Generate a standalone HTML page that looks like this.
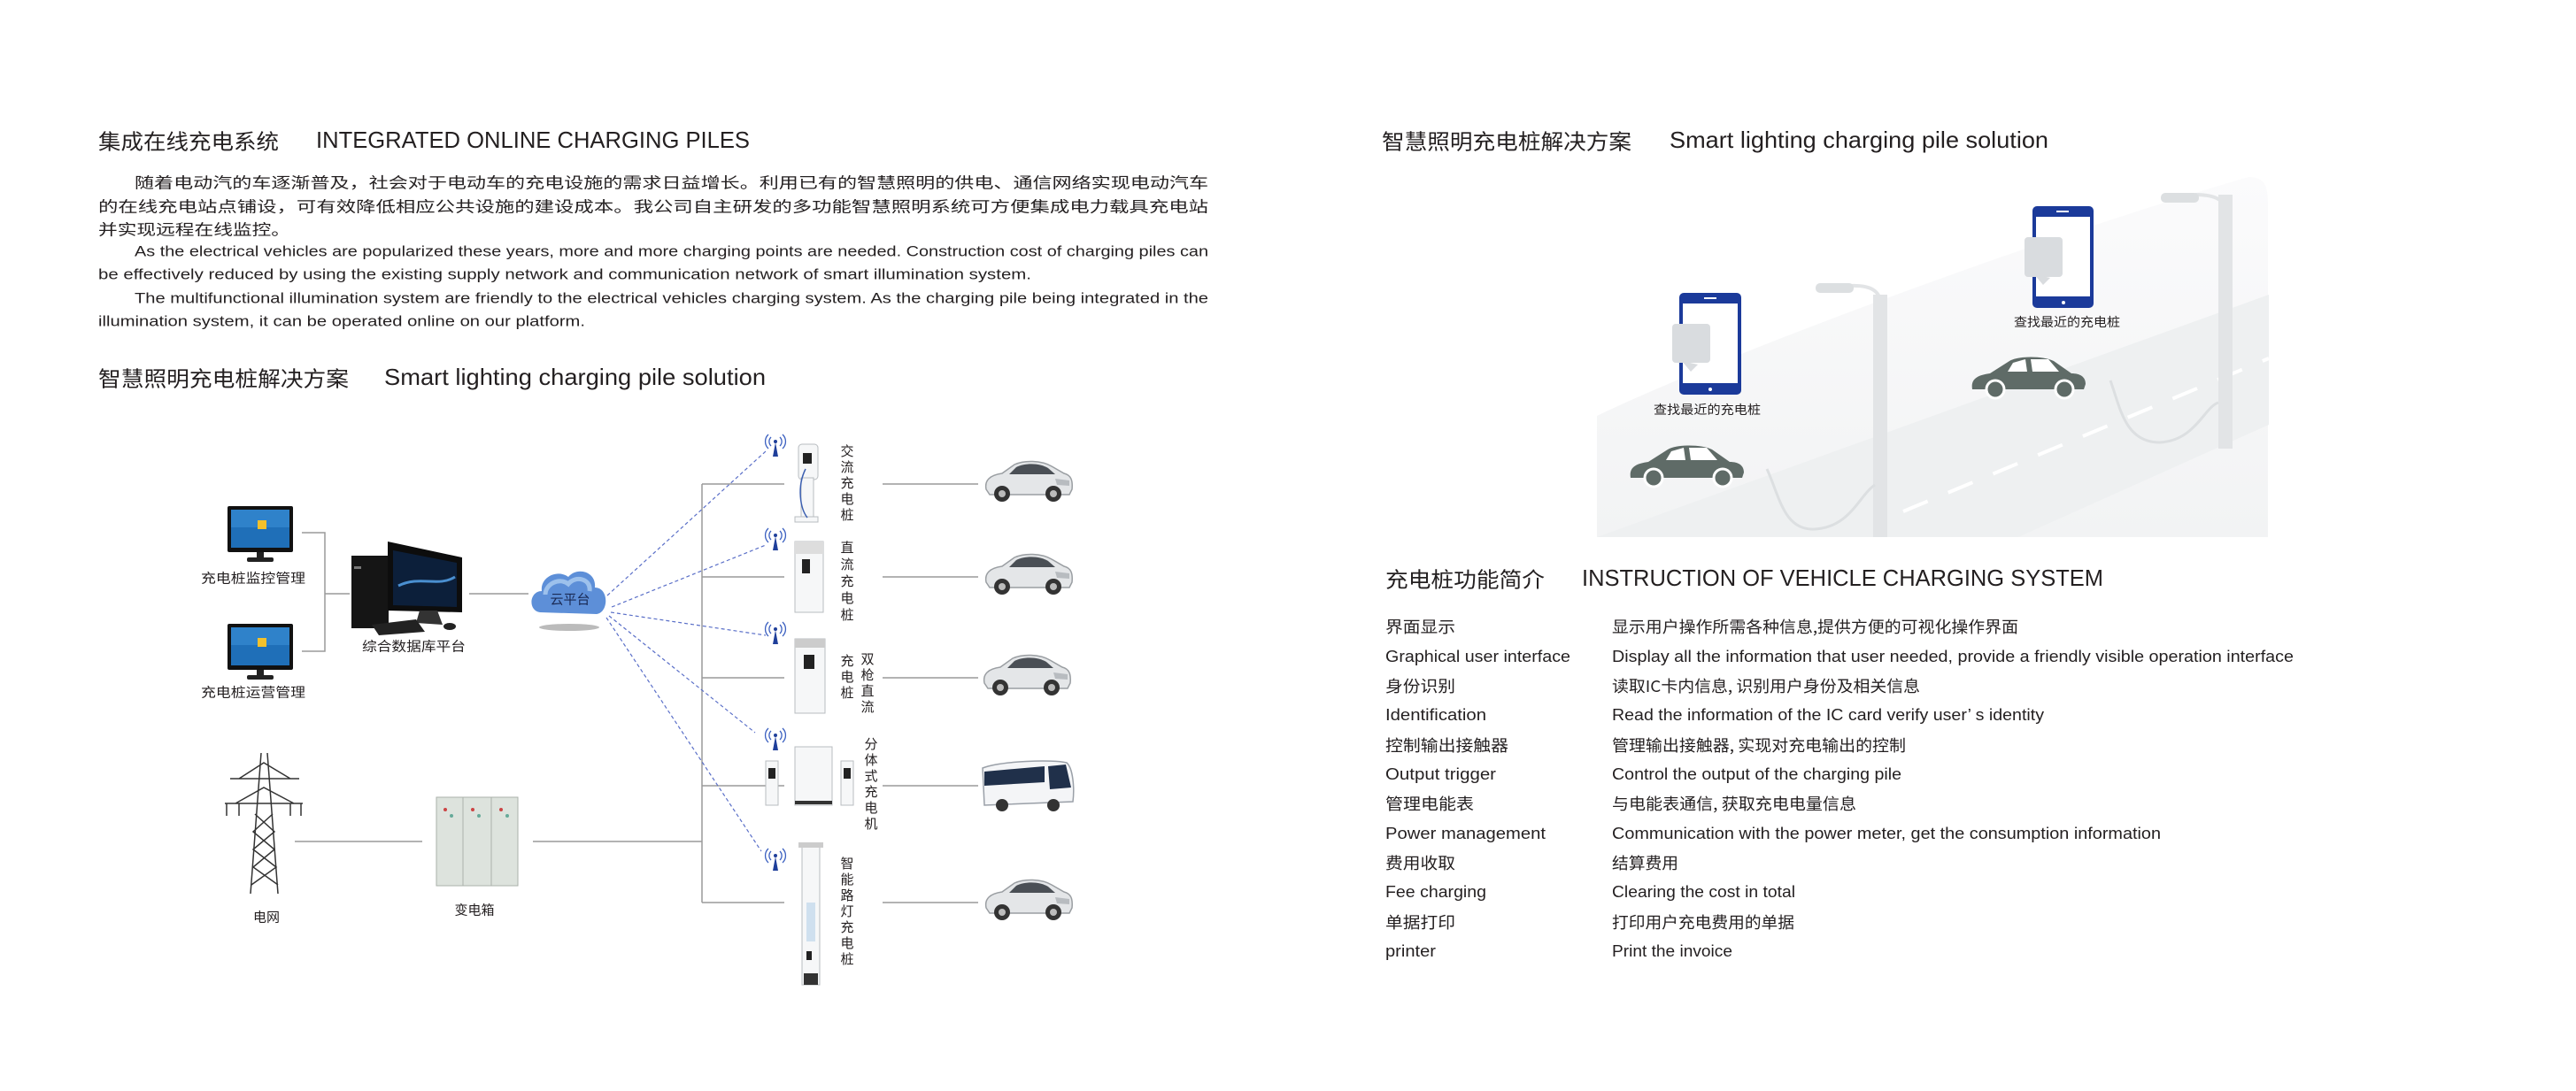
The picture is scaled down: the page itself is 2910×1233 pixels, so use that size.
<!DOCTYPE html>
<html><head><meta charset="utf-8"><style>
html,body{margin:0;padding:0;background:#fff;}
svg{display:block;}
text{font-family:"Liberation Sans","Noto Sans CJK SC",sans-serif;fill:#231f20;}
.cj{font-family:"Noto Sans CJK SC","WenQuanYi Zen Hei",sans-serif;}
</style></head><body>
<svg width="2910" height="1233" viewBox="0 0 2910 1233" xmlns="http://www.w3.org/2000/svg">
<defs>
<g id="car">
<path d="M-48,8 C-50,-2 -44,-8 -30,-10 L-16,-20 C-5,-25 14,-25 26,-18 L40,-10 C48,-8 50,-2 49,8 L46,14 L-44,14 Z" fill="#e4e6e8" stroke="#9a9ea2" stroke-width="1.5"/>
<path d="M-14,-17 C-4,-22 12,-22 22,-16 L30,-9 L-22,-9 Z" fill="#4a4f55"/>
<path d="M30,-4 L46,-2 L46,4 L32,3 Z" fill="#b8bcc0"/>
<circle cx="-30" cy="13" r="9" fill="#333"/><circle cx="-30" cy="13" r="4" fill="#bbb"/>
<circle cx="28" cy="13" r="9" fill="#333"/><circle cx="28" cy="13" r="4" fill="#bbb"/>
</g>
<g id="ant">
<path d="M-3,12 L0,-4 L3,12 Z" fill="#1f3f9a"/>
<circle cx="0" cy="-5" r="2" fill="#1f3f9a"/>
<path d="M-5,-10 A7,7 0 0 0 -5,0 M5,-10 A7,7 0 0 1 5,0 M-8,-13 A11,11 0 0 0 -8,3 M8,-13 A11,11 0 0 1 8,3" fill="none" stroke="#3a5fc0" stroke-width="1.3"/>
</g>
<g id="mon">
<rect x="0" y="0" width="74" height="52" rx="2" fill="#111"/>
<rect x="4" y="4" width="66" height="43" fill="#1f6fb8"/>
<rect x="4" y="4" width="66" height="20" fill="#3b8fd6" opacity="0.6"/>
<rect x="34" y="16" width="10" height="10" fill="#f3c12b"/>
<rect x="33" y="52" width="8" height="6" fill="#222"/>
<rect x="22" y="58" width="30" height="5" rx="2" fill="#222"/>
</g>
<g id="carsil">
<path d="M0,40 C-2,28 6,24 20,22 L42,8 C52,2 80,2 92,8 L112,22 C122,22 128,26 128,34 L126,40 Z" fill="#5f6b67"/>
<path d="M46,10 L60,6 L62,20 L40,20 Z M66,6 L86,6 L98,20 L68,20 Z" fill="#fff"/>
<circle cx="26" cy="40" r="10" fill="#5f6b67" stroke="#fff" stroke-width="3"/>
<circle cx="104" cy="40" r="10" fill="#5f6b67" stroke="#fff" stroke-width="3"/>
</g>
<linearGradient id="bgg" x1="0" y1="0" x2="0" y2="1"><stop offset="0" stop-color="#fbfbfc"/><stop offset="1" stop-color="#f2f3f4"/></linearGradient>
</defs>

<text class="cj" x="111" y="158" font-size="24" dominant-baseline="central" textLength="204" lengthAdjust="spacingAndGlyphs">集成在线充电系统</text>
<text x="357" y="158" font-size="26" dominant-baseline="central" textLength="490" lengthAdjust="spacingAndGlyphs">INTEGRATED ONLINE CHARGING PILES</text>
<g font-size="17">
<text class="cj" x="152" y="205" dominant-baseline="central" textLength="1213" lengthAdjust="spacingAndGlyphs">随着电动汽的车逐渐普及，社会对于电动车的充电设施的需求日益增长。利用已有的智慧照明的供电、通信网络实现电动汽车</text>
<text class="cj" x="111" y="232" dominant-baseline="central" textLength="1254" lengthAdjust="spacingAndGlyphs">的在线充电站点铺设，可有效降低相应公共设施的建设成本。我公司自主研发的多功能智慧照明系统可方便集成电力载具充电站</text>
<text class="cj" x="111" y="258" dominant-baseline="central" textLength="217" lengthAdjust="spacingAndGlyphs">并实现远程在线监控。</text>
<text x="152" y="284" dominant-baseline="central" textLength="1213" lengthAdjust="spacingAndGlyphs">As the electrical vehicles are popularized these years, more and more charging points are needed. Construction cost of charging piles can</text>
<text x="111" y="310" dominant-baseline="central" textLength="1054" lengthAdjust="spacingAndGlyphs">be effectively reduced by using the existing supply network and communication network of smart illumination system.</text>
<text x="152" y="337" dominant-baseline="central" textLength="1213" lengthAdjust="spacingAndGlyphs">The multifunctional illumination system are friendly to the electrical vehicles charging system. As the charging pile being integrated in the</text>
<text x="111" y="363" dominant-baseline="central" textLength="550" lengthAdjust="spacingAndGlyphs">illumination system, it can be operated online on our platform.</text>
</g>
<text class="cj" x="111" y="426" font-size="24" dominant-baseline="central" textLength="283" lengthAdjust="spacingAndGlyphs">智慧照明充电桩解决方案</text>
<text x="434" y="426" font-size="26" dominant-baseline="central" textLength="431" lengthAdjust="spacingAndGlyphs">Smart lighting charging pile solution</text>

<g stroke="#9a9a9a" stroke-width="1.5" fill="none">
<path d="M341,602 H367 V736 H341 M367,671 H395"/>
<path d="M530,671 H597"/>
<path d="M793,547 V1020"/>
<path d="M793,547 H886 M793,652 H886 M793,766 H886 M793,888 H886 M793,1020 H886"/>
<path d="M997,547 H1105 M997,652 H1105 M997,766 H1105 M997,888 H1105 M997,1020 H1105"/>
<path d="M333,951 H477 M602,951 H793"/>
</g>
<g stroke="#5a6fc8" stroke-width="1.2" fill="none" stroke-dasharray="4,3">
<path d="M686,673 L865,510"/>
<path d="M691,686 L865,616"/>
<path d="M690,692 L865,718"/>
<path d="M688,696 L853,828"/>
<path d="M685,698 L860,962"/>
</g>
<use href="#mon" x="257" y="572"/>
<use href="#mon" x="257" y="705"/>
<g font-size="15" class="cj">
<text class="cj" x="227" y="653" dominant-baseline="central" textLength="118" lengthAdjust="spacingAndGlyphs">充电桩监控管理</text>
<text class="cj" x="227" y="782" dominant-baseline="central" textLength="118" lengthAdjust="spacingAndGlyphs">充电桩运营管理</text>
<text class="cj" x="409" y="730" dominant-baseline="central" textLength="117" lengthAdjust="spacingAndGlyphs">综合数据库平台</text>
<text class="cj" x="301" y="1036" text-anchor="middle" dominant-baseline="central">电网</text>
<text class="cj" x="536" y="1028" text-anchor="middle" dominant-baseline="central">变电箱</text>
</g>
<rect x="397" y="628" width="42" height="82" fill="#151515"/>
<rect x="400" y="640" width="8" height="3" fill="#777"/>
<path d="M438,612 L522,630 L522,692 L438,690 Z" fill="#0d0d0d"/>
<path d="M444,622 L516,636 L516,686 L444,684 Z" fill="#0c1f3a"/>
<path d="M450,662 C475,650 495,664 514,652" stroke="#4a8fd0" stroke-width="3" fill="none"/>
<path d="M474,690 L470,704 L500,706 L494,690 Z" fill="#333"/>
<path d="M420,706 L470,700 L480,714 L428,718 Z" fill="#222"/>
<ellipse cx="508" cy="708" rx="7" ry="4" fill="#222"/>
<ellipse cx="643" cy="709" rx="34" ry="4" fill="#bbb"/>
<path d="M610,692 C596,690 598,668 612,668 C610,652 630,643 642,652 C652,640 674,646 672,664 C688,664 688,692 674,694 Z" fill="#5d8fd8"/>
<path d="M616,672 C616,660 632,652 642,660 C650,650 668,654 666,668" fill="none" stroke="#b9d6f5" stroke-width="5" opacity="0.7"/>
<text class="cj" x="644" y="677" font-size="15" text-anchor="middle" dominant-baseline="central" style="fill:#1a2a55">云平台</text>
<use href="#ant" x="876" y="504"/>
<use href="#ant" x="876" y="610"/>
<use href="#ant" x="876" y="716"/>
<use href="#ant" x="876" y="836"/>
<use href="#ant" x="876" y="972"/>
<g stroke="#b8bcc0" stroke-width="1" fill="#f6f7f8">
<rect x="902" y="502" width="22" height="40" rx="4"/>
<rect x="905" y="540" width="14" height="46"/>
<rect x="898" y="584" width="26" height="6"/>
<rect x="898" y="612" width="32" height="80"/>
<rect x="898" y="722" width="34" height="84"/>
<rect x="898" y="844" width="42" height="66"/>
<rect x="865" y="860" width="14" height="50"/>
<rect x="950" y="860" width="14" height="50"/>
<rect x="906" y="955" width="20" height="158"/>
</g>
<rect x="907" y="512" width="10" height="12" fill="#222"/>
<path d="M910,530 C900,550 904,575 912,585" stroke="#3b5fb0" stroke-width="1.5" fill="none"/>
<rect x="898" y="612" width="32" height="14" fill="#ddd"/>
<rect x="906" y="632" width="9" height="16" fill="#222"/>
<rect x="898" y="722" width="34" height="10" fill="#ccc"/>
<rect x="908" y="740" width="12" height="16" fill="#222"/>
<rect x="868" y="868" width="8" height="12" fill="#222"/>
<rect x="953" y="868" width="8" height="12" fill="#222"/>
<rect x="898" y="905" width="42" height="4" fill="#333"/>
<rect x="902" y="952" width="28" height="6" fill="#ccc"/>
<rect x="911" y="1020" width="10" height="44" fill="#cfe0ef"/>
<rect x="911" y="1075" width="6" height="10" fill="#222"/>
<rect x="908" y="1100" width="16" height="13" fill="#333"/>
<g font-size="15" class="cj">
<text class="cj" x="957" dominant-baseline="central" text-anchor="middle"><tspan x="957" y="509">交</tspan><tspan x="957" y="527">流</tspan><tspan x="957" y="545">充</tspan><tspan x="957" y="563">电</tspan><tspan x="957" y="581">桩</tspan></text>
<text class="cj" x="957" dominant-baseline="central" text-anchor="middle"><tspan x="957" y="618">直</tspan><tspan x="957" y="637">流</tspan><tspan x="957" y="656">充</tspan><tspan x="957" y="675">电</tspan><tspan x="957" y="694">桩</tspan></text>
<text class="cj" x="957" dominant-baseline="central" text-anchor="middle"><tspan x="957" y="746">充</tspan><tspan x="957" y="764">电</tspan><tspan x="957" y="782">桩</tspan></text>
<text class="cj" x="980" dominant-baseline="central" text-anchor="middle"><tspan x="980" y="744">双</tspan><tspan x="980" y="762">枪</tspan><tspan x="980" y="780">直</tspan><tspan x="980" y="798">流</tspan></text>
<text class="cj" x="984" dominant-baseline="central" text-anchor="middle"><tspan x="984" y="840">分</tspan><tspan x="984" y="858">体</tspan><tspan x="984" y="876">式</tspan><tspan x="984" y="894">充</tspan><tspan x="984" y="912">电</tspan><tspan x="984" y="930">机</tspan></text>
<text class="cj" x="957" dominant-baseline="central" text-anchor="middle"><tspan x="957" y="975">智</tspan><tspan x="957" y="993">能</tspan><tspan x="957" y="1011">路</tspan><tspan x="957" y="1029">灯</tspan><tspan x="957" y="1047">充</tspan><tspan x="957" y="1065">电</tspan><tspan x="957" y="1083">桩</tspan></text>
</g>
<use href="#car" x="1162" y="545"/>
<use href="#car" x="1162" y="650"/>
<use href="#car" x="1160" y="764"/>
<use href="#car" x="1162" y="1018"/>
<path d="M1110,868 C1130,860 1190,858 1205,862 C1212,868 1214,890 1212,906 L1112,910 Z" fill="#f4f5f7" stroke="#9aa0a8" stroke-width="1.5"/>
<path d="M1112,872 L1180,866 L1180,884 L1112,888 Z" fill="#20304a"/>
<path d="M1184,866 L1204,864 L1210,890 L1186,892 Z" fill="#20304a"/>
<circle cx="1132" cy="910" r="7" fill="#333"/><circle cx="1190" cy="910" r="7" fill="#333"/>
<g stroke="#333" stroke-width="1.5" fill="none">
<path d="M295,851 L283,1010 M302,851 L314,1010"/>
<path d="M260,880 H338 M254,908 H342 M270,880 L298,862 L328,880 M266,908 L298,890 L332,908"/>
<path d="M288,920 L310,940 L286,960 L312,980 L284,1000 M308,920 L286,940 L310,960 L286,980 L314,1000"/>
<path d="M256,908 V922 M270,908 V922 M328,908 V922 M340,908 V922"/>
</g>
<rect x="493" y="901" width="92" height="100" fill="#dde3dd" stroke="#aab2aa"/>
<path d="M523,901 V1001 M555,901 V1001" stroke="#aab2aa"/>
<g fill="#c44"><circle cx="503" cy="915" r="2"/><circle cx="534" cy="915" r="2"/><circle cx="566" cy="915" r="2"/></g>
<g fill="#6a9"><circle cx="510" cy="922" r="2"/><circle cx="541" cy="922" r="2"/><circle cx="573" cy="922" r="2"/></g>

<text class="cj" x="1561" y="158" font-size="24" dominant-baseline="central" textLength="282" lengthAdjust="spacingAndGlyphs">智慧照明充电桩解决方案</text>
<text x="1886" y="158" font-size="26" dominant-baseline="central" textLength="428" lengthAdjust="spacingAndGlyphs">Smart lighting charging pile solution</text>
<path d="M1804,607 L1804,470 C1950,400 2300,270 2540,200 C2558,200 2562,210 2562,230 L2562,607 Z" fill="url(#bgg)"/>
<path d="M1804,607 L2563,333 L2563,480 L2280,607 Z" fill="#eef0f1"/>
<path d="M2150,578 L2563,405" stroke="#fff" stroke-width="4" stroke-dasharray="30,25"/>
<rect x="2116" y="333" width="16" height="274" fill="#e2e4e6"/>
<path d="M2090,323 C2115,322 2125,330 2124,345" stroke="#e2e4e6" stroke-width="4" fill="none"/>
<rect x="2051" y="320" width="43" height="11" rx="5" fill="#dcdfe1"/>
<rect x="2506" y="220" width="16" height="287" fill="#e2e4e6"/>
<path d="M2480,220 C2505,220 2515,228 2514,240" stroke="#e2e4e6" stroke-width="4" fill="none"/>
<rect x="2441" y="218" width="43" height="11" rx="5" fill="#dcdfe1"/>
<path d="M1996,530 C2010,560 2015,600 2050,598 C2090,596 2100,560 2118,548" stroke="#dcdfe1" stroke-width="3" fill="none"/>
<path d="M2384,430 C2395,460 2400,500 2440,500 C2480,498 2490,460 2506,455" stroke="#dcdfe1" stroke-width="3" fill="none"/>
<rect x="1897" y="331" width="70" height="115" rx="5" fill="#1b3a9a"/>
<rect x="1901" y="343" width="62" height="90" fill="#fff"/>
<rect x="1889" y="366" width="43" height="44" rx="4" fill="#d9dcdf"/>
<path d="M1900,408 L1918,412 L1910,420 Z" fill="#d9dcdf"/>
<rect x="2296" y="233" width="69" height="115" rx="5" fill="#1b3a9a"/>
<rect x="2300" y="245" width="61" height="90" fill="#fff"/>
<rect x="2287" y="268" width="43" height="45" rx="4" fill="#d9dcdf"/>
<path d="M2298,310 L2316,314 L2308,322 Z" fill="#d9dcdf"/>
<g fill="#fff"><rect x="1925" y="336" width="14" height="2"/><rect x="2323" y="238" width="14" height="2"/><circle cx="1932" cy="440" r="2"/><circle cx="2331" cy="342" r="2"/></g>
<text class="cj" x="1868" y="463" font-size="14" dominant-baseline="central" textLength="121" lengthAdjust="spacingAndGlyphs">查找最近的充电桩</text>
<text class="cj" x="2275" y="364" font-size="14" dominant-baseline="central" textLength="120" lengthAdjust="spacingAndGlyphs">查找最近的充电桩</text>
<use href="#carsil" x="1842" y="500"/>
<use href="#carsil" x="2228" y="400"/>

<text class="cj" x="1565" y="653" font-size="24" dominant-baseline="central" textLength="180" lengthAdjust="spacingAndGlyphs">充电桩功能简介</text>
<text x="1787" y="653" font-size="26" dominant-baseline="central" textLength="589" lengthAdjust="spacingAndGlyphs">INSTRUCTION OF VEHICLE CHARGING SYSTEM</text>
<g font-size="18">
<text class="cj" x="1565" y="708" dominant-baseline="central" textLength="79" lengthAdjust="spacingAndGlyphs">界面显示</text>
<text class="cj" x="1821" y="708" dominant-baseline="central" textLength="459" lengthAdjust="spacingAndGlyphs">显示用户操作所需各种信息,提供方便的可视化操作界面</text>
<text x="1565" y="742" dominant-baseline="central" textLength="209" lengthAdjust="spacingAndGlyphs">Graphical user interface</text>
<text x="1821" y="742" dominant-baseline="central" textLength="770" lengthAdjust="spacingAndGlyphs">Display all the information that user needed,   provide a friendly visible operation interface</text>
<text class="cj" x="1565" y="775" dominant-baseline="central" textLength="79" lengthAdjust="spacingAndGlyphs">身份识别</text>
<text class="cj" x="1821" y="775" dominant-baseline="central" textLength="348" lengthAdjust="spacingAndGlyphs">读取IC卡内信息, 识别用户身份及相关信息</text>
<text x="1565" y="808" dominant-baseline="central" textLength="114" lengthAdjust="spacingAndGlyphs">Identification</text>
<text x="1821" y="808" dominant-baseline="central" textLength="488" lengthAdjust="spacingAndGlyphs">Read the information of the IC card verify user’ s identity</text>
<text class="cj" x="1565" y="842" dominant-baseline="central" textLength="139" lengthAdjust="spacingAndGlyphs">控制输出接触器</text>
<text class="cj" x="1821" y="842" dominant-baseline="central" textLength="332" lengthAdjust="spacingAndGlyphs">管理输出接触器, 实现对充电输出的控制</text>
<text x="1565" y="875" dominant-baseline="central" textLength="125" lengthAdjust="spacingAndGlyphs">Output trigger</text>
<text x="1821" y="875" dominant-baseline="central" textLength="327" lengthAdjust="spacingAndGlyphs">Control the output of the charging pile</text>
<text class="cj" x="1565" y="908" dominant-baseline="central" textLength="100" lengthAdjust="spacingAndGlyphs">管理电能表</text>
<text class="cj" x="1821" y="908" dominant-baseline="central" textLength="276" lengthAdjust="spacingAndGlyphs">与电能表通信, 获取充电电量信息</text>
<text x="1565" y="942" dominant-baseline="central" textLength="181" lengthAdjust="spacingAndGlyphs">Power management</text>
<text x="1821" y="942" dominant-baseline="central" textLength="620" lengthAdjust="spacingAndGlyphs">Communication with the power meter, get the consumption information</text>
<text class="cj" x="1565" y="975" dominant-baseline="central" textLength="79" lengthAdjust="spacingAndGlyphs">费用收取</text>
<text class="cj" x="1821" y="975" dominant-baseline="central" textLength="75" lengthAdjust="spacingAndGlyphs">结算费用</text>
<text x="1565" y="1008" dominant-baseline="central" textLength="114" lengthAdjust="spacingAndGlyphs">Fee charging</text>
<text x="1821" y="1008" dominant-baseline="central" textLength="207" lengthAdjust="spacingAndGlyphs">Clearing the cost in total</text>
<text class="cj" x="1565" y="1042" dominant-baseline="central" textLength="79" lengthAdjust="spacingAndGlyphs">单据打印</text>
<text class="cj" x="1821" y="1042" dominant-baseline="central" textLength="206" lengthAdjust="spacingAndGlyphs">打印用户充电费用的单据</text>
<text x="1565" y="1075" dominant-baseline="central" textLength="57" lengthAdjust="spacingAndGlyphs">printer</text>
<text x="1821" y="1075" dominant-baseline="central" textLength="136" lengthAdjust="spacingAndGlyphs">Print the invoice</text>
</g>
</svg>
</body></html>
